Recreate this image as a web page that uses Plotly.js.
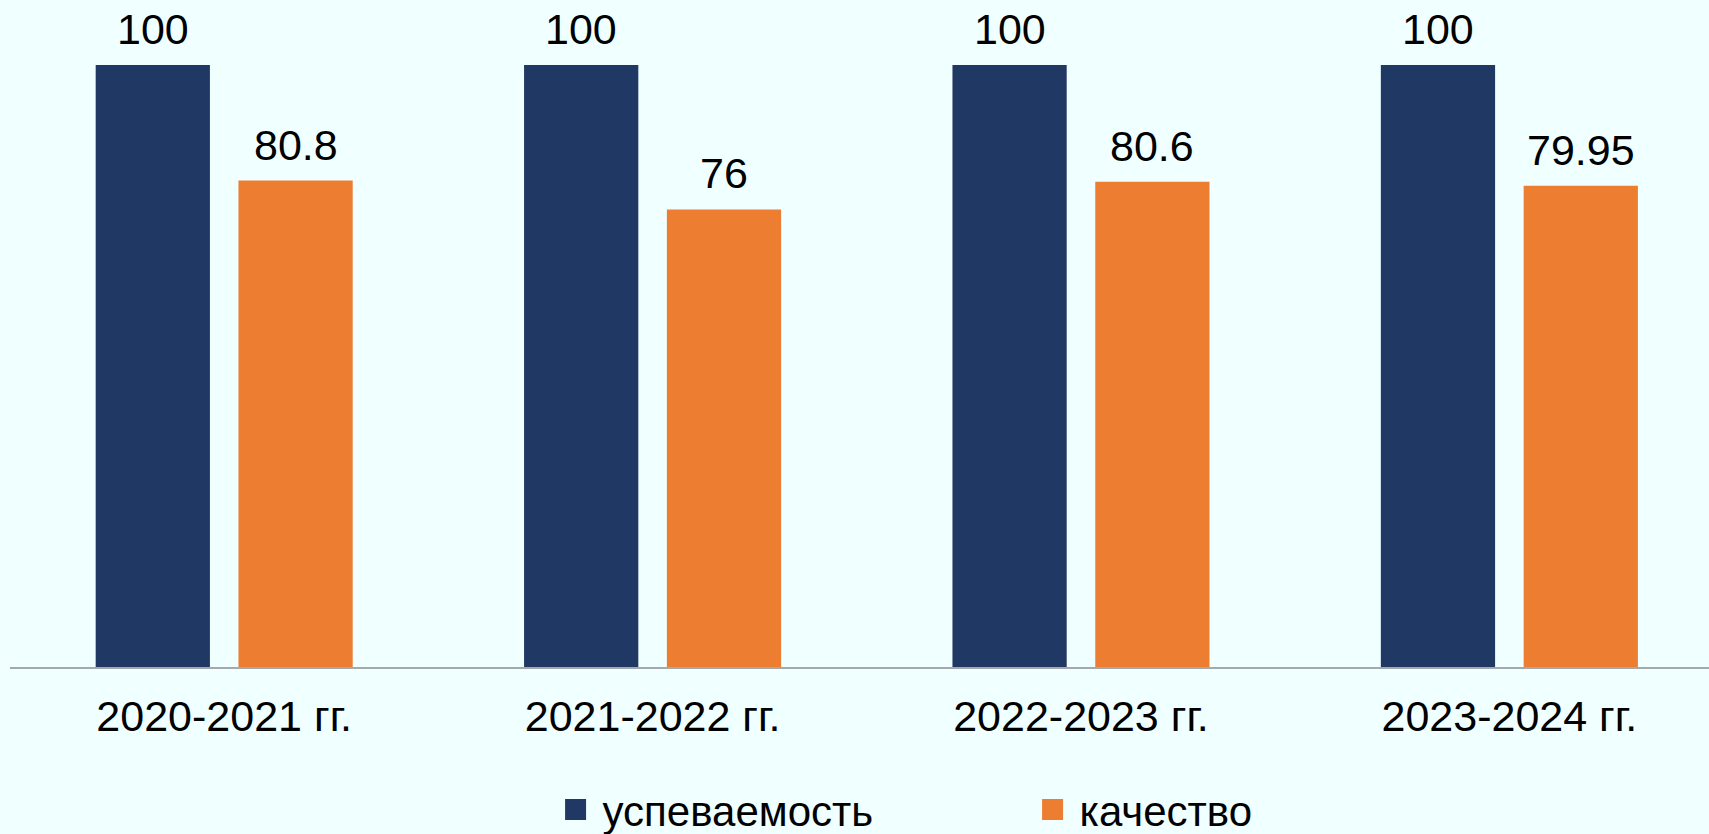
<!DOCTYPE html>
<html>
<head>
<meta charset="utf-8">
<script src="https://cdn.plot.ly/plotly-3.0.1.min.js"></script>
<style>
html,body{margin:0;padding:0;background:#F0FFFF;}
#chart{width:1709px;height:834px;}
</style>
</head>
<body>
<div id="chart"></div>
<script>
const categories = ["2020-2021 гг.", "2021-2022 гг.", "2022-2023 гг.", "2023-2024 гг."];
const seriesNames = ["успеваемость", "качество"];
const uspevaemost = [100, 100, 100, 100];
const kachestvo = [80.8, 76, 80.6, 79.95];
const labelsUsp = ["100", "100", "100", "100"];
const labelsKach = ["80.8", "76", "80.6", "79.95"];

const navy = "#203864";
const orange = "#ED7D31";
const fontFamily = "Liberation Sans, Arial, sans-serif";

const traces = [
  {type: "bar", name: seriesNames[0], x: categories, y: uspevaemost,
   marker: {color: navy}, hoverinfo: "none", showlegend: false},
  {type: "bar", name: seriesNames[1], x: categories, y: kachestvo,
   marker: {color: orange}, hoverinfo: "none", showlegend: false},
  // legend-only entries (no data drawn) for larger square legend keys
  {type: "scatter", mode: "markers", name: seriesNames[0], x: [null], y: [null],
   marker: {symbol: "square", size: 16, color: navy, line: {color: navy, width: 5}}, hoverinfo: "none"},
  {type: "scatter", mode: "markers", name: seriesNames[1], x: [null], y: [null],
   marker: {symbol: "square", size: 16, color: orange, line: {color: orange, width: 5}}, hoverinfo: "none"}
];

const annotations = [];
categories.forEach((c, i) => {
  annotations.push({x: i - 1/6, y: uspevaemost[i], xref: "x", yref: "y", text: labelsUsp[i],
    showarrow: false, yanchor: "bottom", yshift: 10, font: {size: 43, color: "#000", family: fontFamily}});
  annotations.push({x: i + 1/6, y: kachestvo[i], xref: "x", yref: "y", text: labelsKach[i],
    showarrow: false, yanchor: "bottom", yshift: 10, font: {size: 43, color: "#000", family: fontFamily}});
});

const layout = {
  width: 1709, height: 834,
  paper_bgcolor: "#F0FFFF", plot_bgcolor: "#F0FFFF",
  margin: {l: 10, r: 0, t: 0, b: 167, autoexpand: false},
  barmode: "group", bargap: 1/3, bargroupgap: 0.2,
  font: {family: fontFamily, color: "#000"},
  xaxis: {type: "category", range: [-0.5, 3.466], showline: true, linecolor: "#A5A9AC", linewidth: 1.5,
    ticks: "", showgrid: false, zeroline: false, ticklabelstandoff: 11,
    tickfont: {size: 43, family: fontFamily, color: "#000"}, fixedrange: true},
  yaxis: {range: [0, 110.8], visible: false, showgrid: false, zeroline: false, fixedrange: true},
  showlegend: true,
  legend: {orientation: "h", x: 0.317, xanchor: "left", y: -0.214, yanchor: "middle",
    itemwidth: 44, entrywidth: 418, entrywidthmode: "pixels", bgcolor: "rgba(0,0,0,0)",
    font: {size: 42, family: fontFamily, color: "#000"}},
  annotations: annotations
};

Plotly.newPlot("chart", traces, layout, {displayModeBar: false, staticPlot: true});
</script>
</body>
</html>
